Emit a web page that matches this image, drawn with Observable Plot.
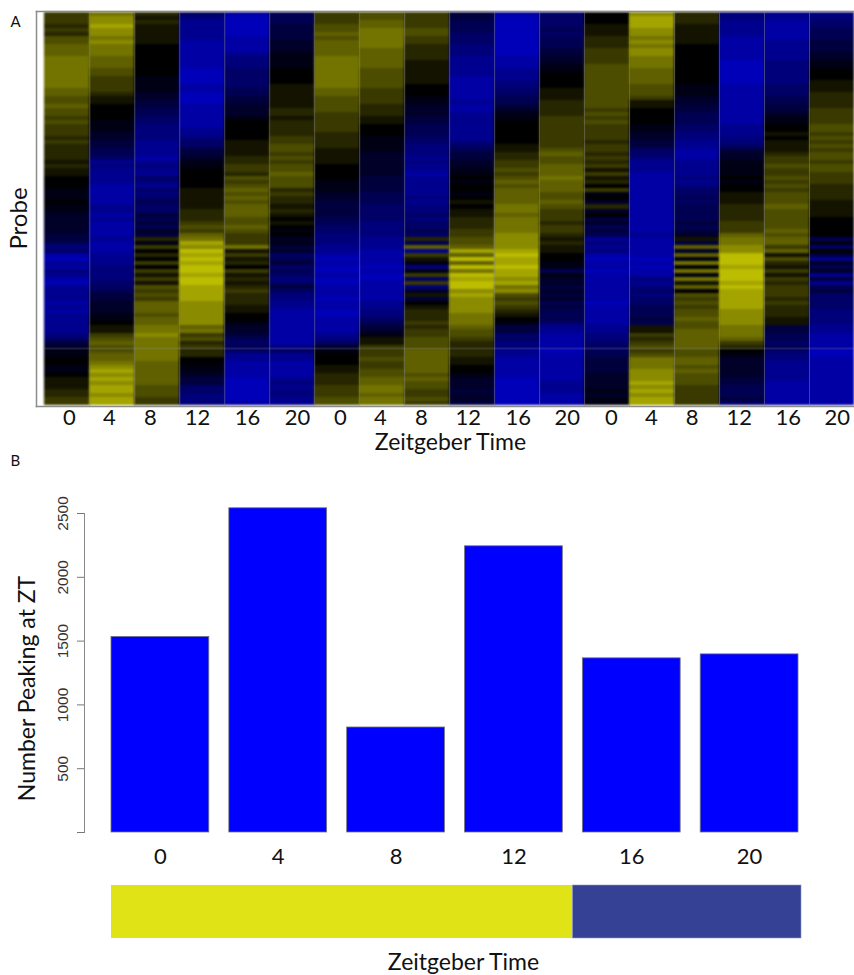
<!DOCTYPE html>
<html><head><meta charset="utf-8">
<script src="https://cdn.jsdelivr.net/npm/d3@7"></script>
<script src="https://cdn.jsdelivr.net/npm/@observablehq/plot@0.6"></script>
<style>
html,body{margin:0;padding:0;background:#fff}
#page{position:relative;width:854px;height:975px;overflow:hidden}
#page>div,#page>svg{position:absolute;left:0}
</style></head><body><div id="page"></div>
<script>
// Expression levels per probe row (blue negative, yellow positive), one list per array column
const d1z0=[3,3,3,2,3,2,4,4,5,5, 5,6,6,6,6,6,6,6,6,5, 5,4,4,5,4,4,3,4,3,3, 3,2,3,2,2,2,2,1,2,1, 1,0,0,0,-1,-1,-1,0,-1,-1, -2,-2,-2,-2,-2,-3,-3,-4,-6,-5, -8,-9,-7,-8,-6,-7,-8,-9,-7,-7, -7,-7,-8,-7,-8,-7,-7,-7,-7,-7, -6,-5,-3,-2,-1,-1,0,0,-1,-1, 0,1,1,1,2,2,3,3];
const d1z4=[6,7,7,8,7,7,6,7,6,6, 6,5,5,5,4,4,3,3,3,3, 2,1,1,0,0,0,0,-1,-1,-1, -2,-2,-3,-3,-4,-4,-5,-7,-6,-7, -7,-7,-7,-8,-8,-8,-8,-8,-7,-7, -8,-7,-8,-8,-8,-8,-7,-8,-8,-8, -7,-7,-7,-6,-6,-6,-6,-5,-5,-4, -3,-3,-2,-2,-2,-1,-1,0,1,1, 3,4,5,4,4,5,5,6,7,8, 7,8,7,8,8,7,8,8];
const d1z8=[2,1,2,1,1,1,1,1,0,0, 0,0,0,0,0,0,-1,-1,-1,-1, -2,-2,-3,-3,-4,-4,-5,-5,-6,-6, -6,-6,-7,-7,-7,-7,-8,-7,-6,-7, -7,-5,-6,-7,-5,-6,-5,-4,-5,-5, -3,-4,-3,-4,-2,-3,2,-1,3,0, 2,0,3,0,3,1,3,1,4,3, 4,3,5,5,5,4,5,5,6,6, 7,6,6,6,6,6,6,5,5,5, 5,5,5,4,4,4,3,3];
const d1z12=[-5,-6,-7,-7,-7,-7,-7,-8,-8,-8, -8,-8,-8,-8,-9,-9,-9,-9,-8,-8, -9,-9,-9,-8,-8,-8,-8,-8,-8,-7, -7,-6,-5,-5,-3,-3,-2,-1,-1,0, 0,0,0,0,1,1,1,1,1,2, 2,2,3,4,3,5,6,8,7,9, 8,9,8,9,9,8,9,9,8,8, 8,8,7,7,7,7,7,7,5,6, 3,4,2,3,2,2,0,0,-1,-1, -2,-3,-3,-5,-5,-6,-6,-6];
const d1z16=[-8,-9,-9,-9,-9,-9,-8,-8,-8,-8, -7,-6,-6,-6,-5,-5,-5,-5,-5,-4, -4,-3,-3,-2,-2,-2,-1,0,0,0, 0,0,1,1,1,1,2,2,3,3, 2,4,3,4,5,4,5,4,5,5, 5,4,4,5,4,3,3,3,6,1, 3,1,2,0,3,1,2,1,2,3, 2,2,2,1,1,0,0,-1,-2,-2, -3,-4,-5,-4,-5,-7,-7,-8,-8,-8, -8,-9,-9,-9,-9,-9,-9,-8];
const d1z20=[-4,-4,-4,-3,-3,-3,-3,-2,-2,-2, -1,-1,-1,-1,0,0,0,0,1,1, 1,1,1,1,2,2,1,2,2,2, 2,3,3,4,4,3,4,3,4,4, 5,4,4,4,2,3,2,2,1,2, 1,0,1,0,-1,0,-2,-1,-3,-2, -5,-4,-3,-5,-4,-5,-6,-5,-3,-5, -6,-6,-7,-7,-8,-8,-8,-8,-8,-8, -8,-8,-8,-6,-5,-7,-7,-8,-8,-8, -8,-7,-6,-7,-6,-6,-7,-7];
const d2z0=[3,3,3,4,4,5,4,5,5,5, 5,6,6,6,6,6,6,6,6,5, 5,4,4,4,4,3,3,3,3,3, 2,2,2,2,1,1,1,1,0,0, 0,0,-1,-1,-1,-2,-2,-3,-3,-3, -3,-4,-4,-5,-5,-6,-6,-6,-7,-7, -8,-9,-8,-9,-9,-8,-9,-9,-8,-8, -8,-9,-8,-8,-9,-9,-8,-8,-8,-8, -7,-6,-5,-2,-1,0,0,0,1,1, 2,2,2,3,3,3,4,4];
const d2z4=[4,4,5,5,6,6,6,6,6,5, 5,5,5,5,4,4,4,4,4,3, 3,3,3,2,2,2,1,1,0,0, 0,-1,-1,-1,-1,-2,-2,-2,-2,-2, -2,-3,-3,-3,-3,-4,-4,-4,-5,-5, -5,-5,-6,-6,-6,-6,-7,-7,-7,-8, -8,-8,-8,-9,-8,-9,-9,-8,-8,-8, -8,-8,-7,-7,-6,-6,-5,-4,-3,-2, -1,1,1,3,3,3,4,3,3,4, 4,5,5,6,6,5,6,6];
const d2z8=[3,3,3,3,4,4,3,3,2,2, 2,2,1,1,1,1,1,1,0,0, 0,-1,-1,-2,-2,-2,-3,-3,-4,-4, -4,-5,-5,-6,-6,-6,-7,-6,-7,-7, -8,-7,-7,-7,-7,-7,-6,-7,-6,-6, -5,-6,-5,-5,-4,-5,2,-4,5,-7, 3,1,-1,-6,-1,3,-5,3,-6,-2, 1,-3,0,1,2,2,2,3,2,3, 3,4,4,4,5,5,5,5,5,5, 4,5,4,4,3,3,4,3];
const d2z12=[-3,-3,-4,-4,-4,-5,-5,-5,-6,-6, -6,-7,-7,-7,-7,-7,-8,-8,-8,-8, -8,-8,-7,-8,-8,-7,-7,-7,-7,-7, -7,-7,-6,-5,-4,-3,-3,-2,-2,-1, -1,0,-1,0,0,-1,0,1,0,1, 1,2,2,2,3,3,4,4,5,8, 5,9,5,9,6,9,8,9,9,7, 8,7,7,7,7,6,6,6,5,4, 4,3,2,2,2,2,1,1,0,0, -1,-2,-2,-2,-3,-2,-2,-3];
const d2z16=[-8,-9,-9,-9,-9,-9,-9,-9,-9,-9, -9,-8,-8,-8,-7,-7,-7,-6,-6,-5, -5,-4,-4,-3,-2,-1,-1,0,0,0, 0,0,0,1,1,2,2,3,3,4, 3,4,5,4,5,5,5,5,6,6, 5,6,6,6,6,7,7,7,7,8, 9,8,8,9,8,8,7,8,6,7, 4,3,4,3,2,1,0,-1,-3,-3, -5,-5,-6,-6,-7,-7,-8,-8,-8,-8, -8,-9,-9,-9,-9,-9,-9,-9];
const d2z20=[-5,-5,-5,-5,-4,-5,-4,-4,-4,-3, -3,-2,-2,-1,-1,0,0,0,0,1, 1,1,2,2,2,2,3,3,3,3, 3,3,3,3,4,5,4,4,5,5, 5,6,5,5,5,4,4,5,4,3, 3,3,2,3,3,2,1,2,1,1, 0,0,-1,-1,-4,-1,-2,-2,-3,-2, -3,-2,-4,-3,-4,-4,-4,-5,-7,-7, -8,-8,-8,-8,-9,-8,-8,-8,-8,-8, -8,-8,-7,-7,-7,-8,-8,-8];
const d3z0=[0,0,0,1,1,1,2,2,2,3, 3,3,3,4,4,4,4,4,4,4, 4,4,4,4,3,4,3,4,3,3, 3,3,2,3,3,2,3,2,3,1, 3,1,2,0,3,-1,0,-2,2,-2, 0,-3,-2,-4,-3,-4,-7,-6,-7,-6, -8,-9,-8,-8,-9,-8,-8,-8,-8,-8, -8,-8,-9,-8,-8,-8,-8,-8,-7,-7, -6,-6,-5,-5,-4,-4,-3,-3,-3,-3, -2,-2,-2,-2,-1,-2,-1,-1];
const d3z4=[7,8,8,8,7,7,6,7,6,7, 7,6,6,6,5,5,5,5,4,4, 4,3,1,1,0,0,0,0,-1,-1, -2,-2,-3,-3,-5,-5,-6,-7,-7,-7, -8,-8,-8,-8,-8,-8,-8,-8,-8,-8, -8,-8,-8,-8,-8,-7,-8,-8,-8,-8, -8,-9,-8,-9,-8,-8,-6,-7,-6,-5, -6,-5,-5,-4,-4,-4,-3,-4,1,1, 3,2,3,4,3,4,6,6,6,7, 7,7,8,7,8,7,8,8];
const d3z8=[2,2,2,1,1,1,1,1,0,0, 0,0,0,0,0,0,0,0,-1,-1, -1,-2,-2,-3,-3,-4,-4,-4,-5,-5, -6,-6,-7,-7,-8,-8,-8,-7,-7,-7, -7,-6,-7,-6,-5,-5,-4,-5,-4,-4, -4,-4,-3,-4,-3,-2,1,-3,5,-2, 5,-1,6,0,6,-1,6,1,5,0, 4,3,4,3,4,4,5,4,4,5, 5,5,5,5,4,4,5,5,4,5, 4,4,4,3,3,3,3,3];
const d3z12=[-6,-6,-7,-7,-7,-7,-8,-8,-8,-8, -8,-8,-9,-9,-9,-9,-9,-9,-8,-8, -8,-8,-8,-8,-8,-8,-8,-8,-7,-7, -7,-6,-6,-5,-3,-2,-2,-1,-1,-1, -1,0,-1,0,0,1,1,1,2,2, 2,2,3,3,3,5,6,6,7,7, 9,9,9,8,9,9,9,8,9,8, 8,8,8,8,7,7,7,7,6,6, 6,5,3,2,0,-1,-2,-2,-2,-2, -2,-3,-3,-4,-4,-4,-3,-5];
const d3z16=[-7,-7,-8,-8,-8,-8,-8,-7,-7,-7, -7,-7,-6,-6,-6,-6,-6,-6,-5,-5, -5,-4,-4,-3,-3,-2,-1,-1,0,0, 1,0,1,1,1,2,3,3,4,3, 3,4,3,4,3,4,4,4,5,4, 4,4,4,4,5,4,5,5,3,5, 1,4,2,1,3,1,3,2,3,3, 3,2,3,2,2,2,1,1,-3,-3, -4,-4,-5,-4,-5,-6,-6,-7,-7,-7, -7,-7,-8,-8,-8,-8,-8,-8];
const d3z20=[-6,-6,-5,-5,-4,-4,-4,-3,-3,-3, -2,-2,-1,-1,0,0,0,1,1,1, 2,2,2,2,3,3,3,3,4,4, 3,4,3,4,3,4,4,3,4,4, 3,3,3,2,2,2,2,1,1,1, 1,0,0,0,0,0,-4,-1,-5,0, -3,-7,-2,-4,-2,-7,-3,-7,-4,-3, -5,-5,-5,-5,-6,-6,-6,-6,-7,-7, -8,-8,-8,-8,-9,-9,-8,-8,-8,-8, -8,-8,-8,-8,-8,-8,-8,-8];
const heatColumns=[d1z0,d1z4,d1z8,d1z12,d1z16,d1z20,d2z0,d2z4,d2z8,d2z12,d2z16,d2z20,d3z0,d3z4,d3z8,d3z12,d3z16,d3z20];
const heatTickLabels=["0","4","8","12","16","20","0","4","8","12","16","20","0","4","8","12","16","20"];
const heatTickAt=[0.549,1.438,2.349,3.393,4.504,5.616,6.571,7.460,8.371,9.416,10.527,11.616,12.593,13.482,14.393,15.438,16.527,17.616];

// Number of probes peaking at each Zeitgeber Time
const peakZT=["0","4","8","12","16","20"];
const peakCount=[1533,2541,823,2243,1365,1396];
const countTicks=[0,500,1000,1500,2000,2500];

// Light / dark phase of the day
const phaseStart=[0,16.05];
const phaseEnd=[16.05,24];
const phaseFill=["#e0e316","#354195"];
const phaseEdge=["none","#8f97cc"];

const FONT="Lato,'Open Sans',sans-serif";
const page=document.getElementById("page");
function place(el,top){el.style.top=top+"px";page.appendChild(el);}

const cells=heatColumns.flatMap((col,c)=>col.map((v,r)=>({c,r,v})));
const nRows=d3.max(heatColumns,c=>c.length);

const heat=Plot.plot({
  width:854,height:470,
  marginLeft:36,marginRight:0,marginTop:11,marginBottom:64,
  style:{background:"transparent",fontFamily:FONT},
  x:{domain:[0,18],range:[44.3,854],axis:null},
  y:{domain:[0,nRows],range:[12,405],axis:null},
  color:{type:"linear",domain:[-9,0,6,9],range:["#0000b8","#000000","#737300","#bcbc00"],clamp:true},
  marks:[
    Plot.rect(cells,{x1:"c",x2:d=>d.c+1,y1:"r",y2:d=>d.r+1,fill:"v",shapeRendering:"crispEdges",imageFilter:"blur(1px)"}),
    Plot.ruleX(d3.range(1,18),{stroke:"#8a8a8a",strokeOpacity:0.5,strokeWidth:1}),
    Plot.ruleY([83.8],{x1:0,x2:18,stroke:"#a0a0c0",strokeOpacity:0.18,strokeWidth:2}),
    Plot.frame({anchor:"left",stroke:"#8c8c8c",strokeWidth:1.5}),
    Plot.frame({anchor:"top",stroke:"#8c8c8c",strokeWidth:1.5}),
    Plot.frame({anchor:"bottom",stroke:"#8c8c8c",strokeWidth:1.5}),
    Plot.text(heatTickLabels,{x:(d,i)=>heatTickAt[i],text:d=>d,frameAnchor:"bottom",dy:11,fontSize:22,fill:"#111",lineAnchor:"middle"}),
    Plot.text(["Zeitgeber Time"],{frameAnchor:"bottom",dx:5,dy:36.5,fontSize:23,fill:"#111",lineAnchor:"middle"}),
    Plot.text(["Probe"],{frameAnchor:"left",textAnchor:"middle",rotate:-90,dx:-17,dy:9.5,fontSize:24,fill:"#111"}),
    Plot.text(["A"],{frameAnchor:"top-left",dx:-26,dy:5,fontSize:15,fill:"#111",textAnchor:"start"}),
    Plot.text(["B"],{frameAnchor:"bottom-left",dx:-26,dy:59,fontSize:15,fill:"#111",textAnchor:"start"})
  ]
});
place(heat,0);

const bars=Plot.plot({
  width:854,height:405,
  marginLeft:84,marginRight:29,marginTop:43,marginBottom:43,
  style:{background:"transparent",fontFamily:FONT},
  x:{domain:peakZT,type:"band",paddingInner:0.17,paddingOuter:0.229,round:false,label:null},
  y:{domain:[0,2500],label:null},
  marks:[
    Plot.barY(peakZT,{x:d=>d,y:(d,i)=>peakCount[i],fill:"#0000ff",stroke:"#777",strokeWidth:0.8}),
    Plot.frame({anchor:"left",stroke:"#888",strokeWidth:1}),
    Plot.axisY({ticks:countTicks,tickSize:7,tickRotate:-90,tickPadding:10,fontSize:15.5,stroke:"#777",fill:"#333",
      fontFamily:"'Liberation Sans',sans-serif",tickFormat:d=>d===0?"":String(d),label:null,textAnchor:"middle"}),
    Plot.axisX({tickSize:0,tickPadding:16,fontSize:22,fill:"#111",label:null}),
    Plot.text(["Number Peaking at ZT"],{frameAnchor:"left",textAnchor:"middle",rotate:-90,dx:-57,dy:15.5,fontSize:23,fill:"#111"})
  ]
});
place(bars,470);

const strip=Plot.plot({
  width:854,height:95,
  marginLeft:111,marginRight:53,marginTop:5,marginBottom:37,
  style:{background:"transparent",fontFamily:FONT},
  x:{domain:[0,24],axis:null},
  marks:[
    Plot.rectX(phaseFill,{x1:(d,i)=>phaseStart[i],x2:(d,i)=>phaseEnd[i],fill:d=>d,stroke:(d,i)=>phaseEdge[i],strokeWidth:0.6}),
    Plot.text(["Zeitgeber Time"],{frameAnchor:"bottom",dx:7,dy:24,fontSize:23,fill:"#111",lineAnchor:"middle"})
  ]
});
place(strip,880);
</script></body></html>
